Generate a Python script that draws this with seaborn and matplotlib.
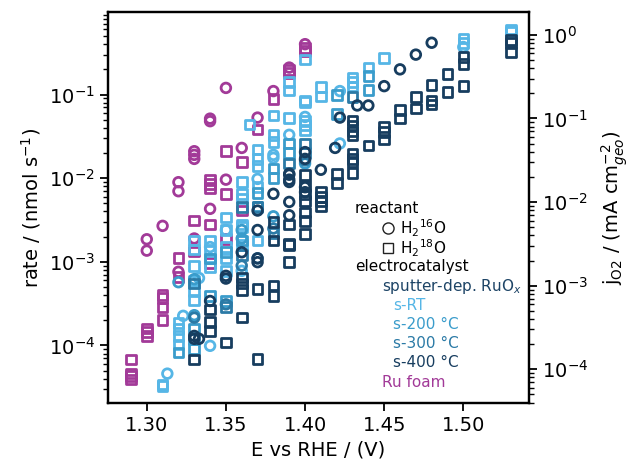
import numpy as np
import pandas as pd
import matplotlib
matplotlib.use("Agg")
import matplotlib.pyplot as plt
from matplotlib.lines import Line2D
import seaborn as sns

# ---------------- data (E vs RHE / V, rate / nmol s^-1) ----------------
ru_o16_E = [1.30, 1.30, 1.31, 1.32, 1.32, 1.32, 1.33, 1.33, 1.33, 1.33, 1.34, 1.34, 1.34,
            1.35, 1.35, 1.36, 1.37, 1.38, 1.39, 1.40]
ru_o16_r = [0.00186, 0.00136, 0.00269, 0.00895, 0.00698, 0.00076, 0.021, 0.019, 0.017, 0.0019,
            0.0515, 0.048, 0.0043, 0.12, 0.0096, 0.023, 0.053, 0.11, 0.21, 0.40]
ru_o18_E = [1.29, 1.29, 1.29, 1.29, 1.30, 1.30, 1.30, 1.31, 1.31, 1.31, 1.31, 1.32, 1.32,
            1.33, 1.33, 1.34, 1.34, 1.34, 1.34, 1.34, 1.35, 1.35, 1.35, 1.36, 1.36, 1.37,
            1.38, 1.39, 1.39, 1.40, 1.40]
ru_o18_r = [6.8e-5, 4.6e-5, 4.3e-5, 3.9e-5, 1.6e-4, 1.45e-4, 1.3e-4, 4.0e-4, 3.7e-4, 2.84e-4,
            2.02e-4, 0.00111, 0.00066, 0.00311, 0.00133, 0.0095, 0.0085, 0.0076, 0.00279,
            0.00096, 0.021, 0.0065, 0.00186, 0.0156, 0.0041, 0.038, 0.088, 0.195, 0.18,
            0.36, 0.33]

srt_o16_E = [1.313, 1.323, 1.333, 1.34, 1.34, 1.35, 1.36, 1.37, 1.38, 1.38, 1.39, 1.40,
             1.422, 1.422, 1.50]
srt_o16_r = [4.6e-5, 2.26e-4, 6.4e-4, 9.9e-5, 0.0015, 0.0024, 7.8e-4, 0.0098, 0.019, 0.0175,
             0.033, 0.054, 0.11, 0.026, 0.37]
srt_o18_E = [1.31, 1.31, 1.32, 1.32, 1.32, 1.32, 1.33, 1.33, 1.33, 1.33, 1.33, 1.33,
             1.34, 1.34, 1.34, 1.34, 1.35, 1.35, 1.35, 1.35, 1.35, 1.36, 1.36, 1.36, 1.36,
             1.36, 1.36, 1.365, 1.37, 1.37, 1.37, 1.37, 1.37, 1.38, 1.38, 1.38, 1.39, 1.39,
             1.39, 1.40, 1.40, 1.40, 1.40, 1.40, 1.40, 1.41, 1.41, 1.43, 1.43, 1.43, 1.44,
             1.45, 1.50, 1.50, 1.53, 1.53]
srt_o18_r = [3.4e-5, 3.3e-5, 1.87e-4, 1.56e-4, 1.3e-4, 1.03e-4, 8.9e-4, 6.0e-4, 4.5e-4, 3.5e-4,
             0.0018, 0.0014, 0.00135, 0.0011, 8.6e-4, 0.0018, 0.0034, 0.0024, 0.0015, 0.0011,
             7.8e-4, 0.009, 0.0065, 0.0057, 0.0028, 0.0026, 0.0016, 0.044, 0.022, 0.017,
             0.014, 0.0078, 0.0018, 0.056, 0.033, 0.027, 0.142, 0.112, 0.052, 0.263, 0.085,
             0.081, 0.049, 0.043, 0.037, 0.123, 0.095, 0.16, 0.14, 0.125, 0.21, 0.275, 0.47,
             0.41, 0.60, 0.56]

s200_o16_E = [1.32, 1.33, 1.36, 1.36, 1.38, 1.40, 1.33]
s200_o16_r = [5.7e-4, 6.2e-4, 0.0024, 0.0019, 0.0035, 0.015, 2.3e-4]
s200_o18_E = [1.32, 1.33, 1.33, 1.33, 1.34, 1.35, 1.36, 1.37, 1.37, 1.38, 1.38, 1.39, 1.39,
              1.42, 1.42, 1.44, 1.44, 1.34, 1.35]
s200_o18_r = [8.2e-5, 1.6e-4, 1.2e-4, 9.1e-5, 3.9e-4, 3.4e-4, 0.0018, 0.0066, 0.0046, 0.013,
              0.010, 0.026, 0.020, 0.098, 0.059, 0.166, 0.113, 0.0011, 0.0013]

s300_o16_E = [1.33, 1.35, 1.37, 1.38, 1.40, 1.36]
s300_o16_r = [2.15e-4, 3.1e-4, 0.0011, 0.0025, 0.0163, 0.0009]
s300_o18_E = [1.33, 1.35, 1.36, 1.37, 1.39, 1.40, 1.40, 1.43, 1.36, 1.38]
s300_o18_r = [5.5e-4, 2.9e-4, 0.0045, 0.0045, 0.015, 0.026, 0.020, 0.094, 0.0012, 0.0022]

s400_o16_E = [1.33, 1.33, 1.333, 1.34, 1.35, 1.35, 1.36, 1.37, 1.37, 1.37, 1.37, 1.38,
              1.39, 1.39, 1.39, 1.39, 1.39, 1.39, 1.40, 1.40, 1.40, 1.40, 1.41, 1.422,
              1.419, 1.433, 1.44, 1.45, 1.46, 1.47, 1.48]
s400_o16_r = [1.3e-4, 1.2e-4, 1.2e-4, 3.4e-4, 6.8e-4, 6.3e-4, 0.0013, 0.0041, 0.0024, 0.0011,
              9.9e-4, 0.0065, 0.011, 0.009, 0.0052, 0.0036, 0.0113, 0.0096, 0.0205, 0.017,
              0.0078, 0.0068, 0.0126, 0.053, 0.023, 0.074, 0.074, 0.126, 0.20, 0.30, 0.416]
s400_o18_E = [1.33, 1.34, 1.34, 1.34, 1.35, 1.36, 1.36, 1.36, 1.36, 1.37, 1.37, 1.38, 1.38,
              1.38, 1.38, 1.39, 1.39, 1.39, 1.39, 1.40, 1.40, 1.40, 1.40, 1.40, 1.40, 1.40,
              1.41, 1.41, 1.41, 1.41, 1.42, 1.42, 1.43, 1.43, 1.43, 1.43, 1.43, 1.43, 1.43,
              1.43, 1.44, 1.45, 1.45, 1.45, 1.46, 1.46, 1.47, 1.47, 1.48, 1.48, 1.48, 1.49,
              1.49, 1.50, 1.50, 1.50, 1.53, 1.53, 1.53]
s400_o18_r = [6.8e-5, 2.7e-4, 1.9e-4, 1.5e-4, 1.08e-4, 2.15e-4, 6.5e-4, 5.5e-4, 4.6e-4, 6.9e-5,
              4.7e-4, 5.2e-4, 3.9e-4, 0.003, 0.0018, 0.0028, 0.00163, 0.00099, 0.0016, 0.011,
              0.008, 0.0065, 0.0053, 0.0039, 0.0031, 0.00215, 0.0068, 0.006, 0.0053, 0.0046,
              0.0113, 0.0087, 0.049, 0.042, 0.036, 0.033, 0.0198, 0.017, 0.0155, 0.0116,
              0.0245, 0.041, 0.0357, 0.029, 0.065, 0.0515, 0.094, 0.068, 0.129, 0.085, 0.076,
              0.175, 0.107, 0.28, 0.23, 0.127, 0.45, 0.41, 0.32]

catalysts = ["s-RT", "s-200 °C", "s-300 °C", "s-400 °C", "Ru foam"]
reactants = ["H2-16O", "H2-18O"]
colors = {"s-RT": "#56b6e6", "s-200 °C": "#3a9ccb", "s-300 °C": "#2b7aa6",
          "s-400 °C": "#173d5f", "Ru foam": "#a23a98"}
header_color = "#1d4466"
j_factor = 1.93  # rate (nmol/s) -> j_O2 (mA/cm2_geo)

series = [
    ("Ru foam", "H2-16O", ru_o16_E, ru_o16_r), ("Ru foam", "H2-18O", ru_o18_E, ru_o18_r),
    ("s-RT", "H2-16O", srt_o16_E, srt_o16_r), ("s-RT", "H2-18O", srt_o18_E, srt_o18_r),
    ("s-200 °C", "H2-16O", s200_o16_E, s200_o16_r), ("s-200 °C", "H2-18O", s200_o18_E, s200_o18_r),
    ("s-300 °C", "H2-16O", s300_o16_E, s300_o16_r), ("s-300 °C", "H2-18O", s300_o18_E, s300_o18_r),
    ("s-400 °C", "H2-16O", s400_o16_E, s400_o16_r), ("s-400 °C", "H2-18O", s400_o18_E, s400_o18_r),
]
frames = [pd.DataFrame({"E": E, "rate": r, "catalyst": c, "reactant": rx}) for c, rx, E, r in series]
df = pd.concat(frames, ignore_index=True)

# ---------------- plot ----------------
sns.set_style("ticks")
plt.rcParams["font.family"] = ["DejaVu Sans"]
plt.rcParams["mathtext.fontset"] = "dejavusans"
for k in ("text.color", "axes.labelcolor", "xtick.color", "ytick.color", "axes.edgecolor"):
    plt.rcParams[k] = "black"

fig = plt.figure(figsize=(6.32, 4.69), dpi=100)
ax = fig.add_axes([108 / 632, 66 / 469, 421 / 632, 391 / 469])

sns.scatterplot(data=df, x="E", y="rate", hue="catalyst", style="reactant",
                palette=colors, hue_order=catalysts,
                markers={"H2-16O": "o", "H2-18O": "s"}, style_order=reactants,
                s=48, linewidth=2.0, legend=False, ax=ax)
coll = ax.collections[-1]
fc = coll.get_facecolors()
coll.set_edgecolors(fc)
coll.set_facecolors("none")

ax.set_yscale("log")
ylo, yhi = 2.05e-5, 0.97
ax.set_ylim(ylo, yhi)
ax.set_xlim(1.2755, 1.5415)
ax.set_xticks([1.30, 1.35, 1.40, 1.45, 1.50])
ax.set_xticklabels(["1.30", "1.35", "1.40", "1.45", "1.50"])
ax.set_xlabel("E vs RHE / (V)", fontsize=14)
ax.set_ylabel("rate / (nmol s$^{-1}$)", fontsize=14)

ax2 = ax.twinx()
ax2.set_yscale("log")
ax2.set_ylim(ylo * j_factor, yhi * j_factor)
ax2.set_ylabel(r"j$_{\mathrm{O2}}$ / (mA cm$_{geo}^{-2}$)", fontsize=14, labelpad=8)

for a in (ax, ax2):
    a.tick_params(axis="both", which="major", labelsize=14, length=6, width=1.3,
                  direction="out", colors="black")
    a.tick_params(axis="both", which="minor", length=3.5, width=1.0, direction="out",
                  colors="black")
    for sp in a.spines.values():
        sp.set_linewidth(1.6)
        sp.set_color("black")
ax2.spines["top"].set_visible(True)
ax.spines["top"].set_visible(True)
ax.spines["right"].set_visible(True)

# ---------------- legend (text based) ----------------
def fx(px):
    return px / 632

def fy(py):
    return 1 - py / 469

fs = 11
fig.text(fx(355), fy(208), "reactant", fontsize=fs, va="center", ha="left")
fig.add_artist(Line2D([fx(388)], [fy(228)], marker="o", markersize=8, markerfacecolor="none",
                      markeredgecolor="#222222", markeredgewidth=1.0, linestyle="none",
                      transform=fig.transFigure))
fig.text(fx(400), fy(228), "H$_2$$^{16}$O", fontsize=fs, va="center", ha="left")
fig.add_artist(Line2D([fx(388)], [fy(248)], marker="s", markersize=7.5, markerfacecolor="none",
                      markeredgecolor="#222222", markeredgewidth=1.0, linestyle="none",
                      transform=fig.transFigure))
fig.text(fx(400), fy(248), "H$_2$$^{18}$O", fontsize=fs, va="center", ha="left")
fig.text(fx(355), fy(266), "electrocatalyst", fontsize=fs, va="center", ha="left")
fig.text(fx(382), fy(286), "sputter-dep. RuO$_x$", fontsize=fs, va="center", ha="left",
         color=header_color)
for i, c in enumerate(["s-RT", "s-200 °C", "s-300 °C", "s-400 °C"]):
    fig.text(fx(393), fy(305 + 19.3 * i), c, fontsize=fs, va="center", ha="left", color=colors[c])
fig.text(fx(382), fy(382), "Ru foam", fontsize=fs, va="center", ha="left", color=colors["Ru foam"])

fig.savefig("out.png", dpi=100)
